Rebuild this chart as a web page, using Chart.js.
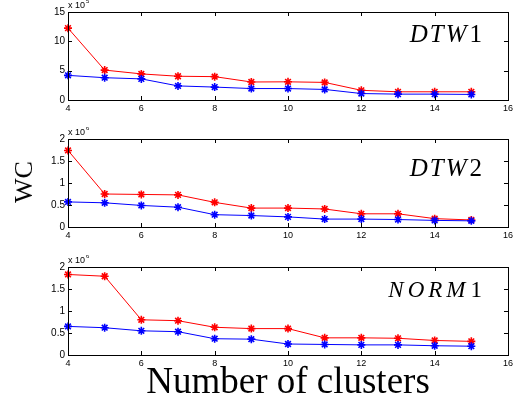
<!DOCTYPE html>
<html>
<head>
<meta charset="utf-8">
<script src="https://cdn.jsdelivr.net/npm/chart.js@4/dist/chart.umd.min.js"></script>
<style>
  body { margin: 0; background: #fff; width: 516px; height: 404px; overflow: hidden; position: relative; }
  .panel { position: absolute; left: 0; width: 516px; height: 115px; }
  #ylab { position: absolute; left: 24px; top: 182px; font: 26px "Liberation Serif", serif; transform: translate(-50%, -50%) rotate(-90deg); white-space: nowrap; }
  #xlab { position: absolute; left: 288px; top: 361px; font: 37px "Liberation Serif", serif; line-height: 40px; transform: translateX(-50%); white-space: nowrap; }
</style>
</head>
<body>
<div class="panel" style="top:0px"><canvas id="c1"></canvas></div>
<div class="panel" style="top:127px"><canvas id="c2"></canvas></div>
<div class="panel" style="top:255px"><canvas id="c3"></canvas></div>
<div id="ylab">WC</div>
<div id="xlab">Number of clusters</div>
<script>
// data
const clusters = [4, 5, 6, 7, 8, 9, 10, 11, 12, 13, 14, 15];
const xTicks = [4, 6, 8, 10, 12, 14, 16];

// DTW1, units of 10^5
const dtw1Red  = [12.25, 5.1, 4.45, 4.05, 3.98, 3.07, 3.1, 3.0, 1.65, 1.4, 1.4, 1.4];
const dtw1Blue = [4.2, 3.8, 3.6, 2.4, 2.2, 1.95, 1.95, 1.8, 1.1, 1.0, 1.0, 0.95];
// DTW2, units of 10^6
const dtw2Red  = [1.74, 0.75, 0.74, 0.73, 0.56, 0.43, 0.43, 0.41, 0.30, 0.30, 0.19, 0.16];
const dtw2Blue = [0.57, 0.55, 0.49, 0.45, 0.28, 0.26, 0.23, 0.18, 0.18, 0.17, 0.15, 0.14];
// NORM1, units of 10^6
const norm1Red  = [1.83, 1.79, 0.80, 0.78, 0.63, 0.60, 0.60, 0.39, 0.39, 0.38, 0.33, 0.31];
const norm1Blue = [0.65, 0.62, 0.55, 0.53, 0.37, 0.36, 0.25, 0.24, 0.23, 0.23, 0.21, 0.20];

const pts = arr => arr.map((v, i) => ({ x: clusters[i], y: v }));

// frame, inward ticks, exponent and panel name
const framePlugin = {
  id: 'frame',
  afterDraw(chart) {
    const { ctx, chartArea: a, scales } = chart;
    const o = chart.options.plugins.frame;
    ctx.save();
    ctx.strokeStyle = '#000';
    ctx.lineWidth = 1;
    ctx.strokeRect(Math.round(a.left) + 0.5, Math.round(a.top) + 0.5, Math.round(a.width), Math.round(a.height));
    ctx.beginPath();
    scales.x.ticks.forEach(t => {
      const px = Math.round(scales.x.getPixelForValue(t.value)) + 0.5;
      ctx.moveTo(px, a.bottom); ctx.lineTo(px, a.bottom - 4);
      ctx.moveTo(px, a.top); ctx.lineTo(px, a.top + 4);
    });
    scales.y.ticks.forEach(t => {
      const py = Math.round(scales.y.getPixelForValue(t.value)) + 0.5;
      ctx.moveTo(a.left, py); ctx.lineTo(a.left + 4, py);
      ctx.moveTo(a.right, py); ctx.lineTo(a.right - 4, py);
    });
    ctx.stroke();

    // x 10^n
    ctx.fillStyle = '#000';
    ctx.textBaseline = 'alphabetic';
    ctx.textAlign = 'left';
    ctx.font = '9px "Liberation Sans", sans-serif';
    ctx.fillText('x 10', a.left, a.top - 4);
    const w = ctx.measureText('x 10').width;
    ctx.font = '6px "Liberation Sans", sans-serif';
    ctx.fillText(o.exp, a.left + w + 1, a.top - 9);

    // panel name: italic letters, upright digit
    ctx.font = o.size + 'px "Liberation Serif", serif';
    const dw = ctx.measureText(o.digit).width;
    ctx.textAlign = 'right';
    const right = 482;
    ctx.fillText(o.digit, right, a.top + o.base);
    ctx.font = 'italic ' + o.size + 'px "Liberation Serif", serif';
    if ('letterSpacing' in ctx) ctx.letterSpacing = o.spacing + 'px';
    ctx.fillText(o.name, right - dw - 1, a.top + o.base);
    ctx.restore();
  }
};

function makePanel(id, red, blue, yMax, yStep, exp, name, digit, size, base, spacing) {
  new Chart(document.getElementById(id), {
    type: 'line',
    data: {
      datasets: [
        { data: pts(blue), borderColor: '#0000ff', backgroundColor: '#0000ff', borderWidth: 1,
          pointStyle: 'star', pointRadius: 4, pointBorderWidth: 1.6, clip: false, tension: 0 },
        { data: pts(red), borderColor: '#ff0000', backgroundColor: '#ff0000', borderWidth: 1,
          pointStyle: 'star', pointRadius: 4, pointBorderWidth: 1.6, clip: false, tension: 0 }
      ]
    },
    options: {
      responsive: false,
      animation: false,
      events: [],
      layout: { padding: { top: 12, right: 7, left: 0, bottom: 0 } },
      plugins: {
        legend: { display: false },
        tooltip: { enabled: false },
        frame: { exp: exp, name: name, digit: digit, size: size, base: base, spacing: spacing }
      },
      scales: {
        x: {
          type: 'linear', min: 4, max: 16,
          afterBuildTicks: s => { s.ticks = xTicks.map(v => ({ value: v })); },
          afterFit: s => { s.height = 15; },
          grid: { display: false, drawTicks: false },
          border: { display: false },
          ticks: { padding: 3, color: '#000', font: { family: 'Liberation Sans', size: 9 }, maxRotation: 0, autoSkip: false }
        },
        y: {
          min: 0, max: yMax,
          afterFit: s => { s.width = 68; },
          grid: { display: false, drawTicks: false },
          border: { display: false },
          ticks: { stepSize: yStep, padding: 3, color: '#000', font: { family: 'Liberation Sans', size: 10 },
                   callback: v => String(+v.toFixed(2)) }
        }
      }
    },
    plugins: [framePlugin]
  });
}

document.querySelectorAll('canvas').forEach(c => { c.width = 516; c.height = 115; });
makePanel('c1', dtw1Red, dtw1Blue, 15, 5, '5', 'DTW', '1', 25, 30, 2);
makePanel('c2', dtw2Red, dtw2Blue, 2, 0.5, '6', 'DTW', '2', 25, 37, 2);
makePanel('c3', norm1Red, norm1Blue, 2, 0.5, '6', 'NORM', '1', 23, 30, 4);
</script>
</body>
</html>
